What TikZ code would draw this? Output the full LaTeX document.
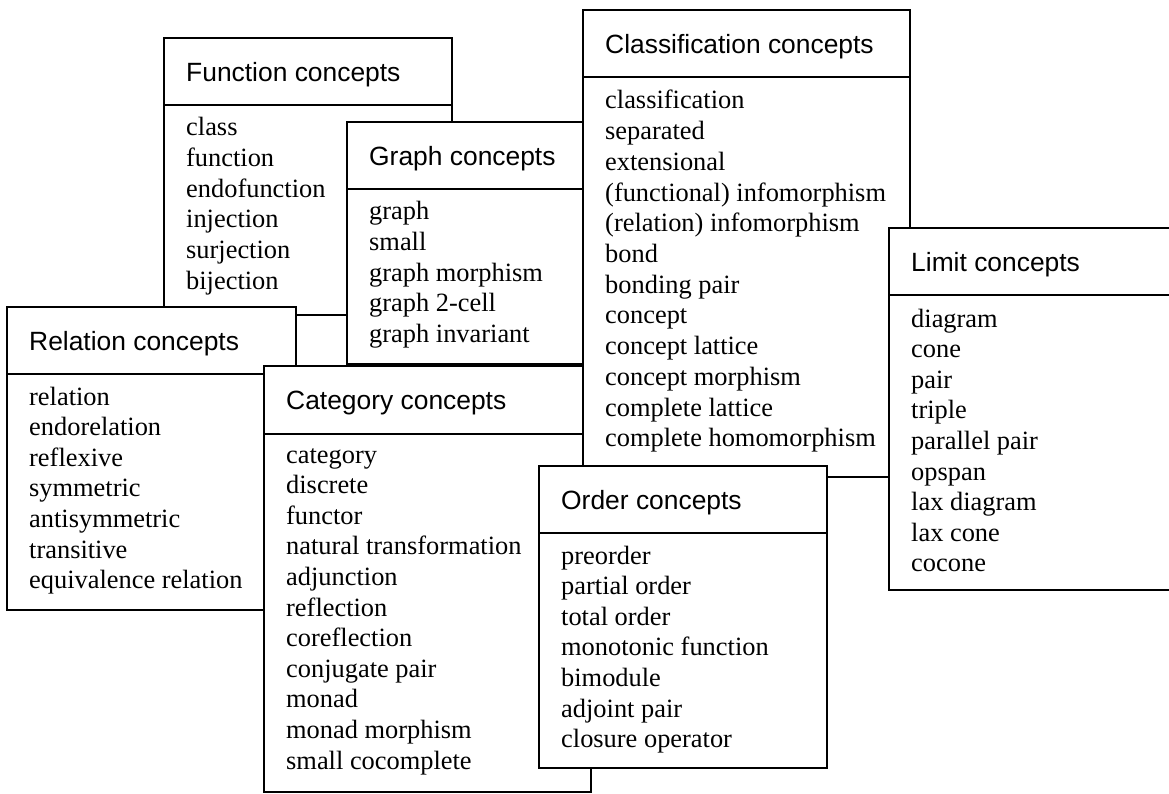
\documentclass[tikz,border=0pt]{standalone}
\usepackage{fontspec}
\setmainfont{Liberation Serif}
\setsansfont{Liberation Sans}
\tikzset{
  card/.style={draw=black,fill=white,line width=2pt},
  rule/.style={draw=black,line width=2pt},
  head/.style={font=\sffamily\fontsize{26.4}{30}\selectfont,anchor=base west,inner sep=0pt},
  item/.style={font=\fontsize{26.4}{30}\selectfont,anchor=base west,inner sep=0pt}
}
\begin{document}
\begin{tikzpicture}[x=1pt,y=-1pt]
            \useasboundingbox (0,0) rectangle (1169,794);
            % function
            \draw[card] (164,38) rectangle (452,315);
            \draw[rule] (164,105)--(452,105);
            \node[head] (funhead) at (186,81.3) {Function concepts};
            \foreach \t [count=\i] in {class,function,endofunction,injection,surjection,bijection}
                \node[item] (fun\i) at (186,{136+30.6*(\i-1)}) {\t};
            % graph
            \draw[card] (347,122) rectangle (583,364);
            \draw[rule] (347,189)--(583,189);
            \node[head] (grahead) at (369,165.3) {Graph concepts};
            \foreach \t [count=\i] in {graph,small,graph morphism,graph 2-cell,graph invariant}
                \node[item] (gra\i) at (369,{220+30.6*(\i-1)}) {\t};
            % relation
            \draw[card] (7,307) rectangle (296,610);
            \draw[rule] (7,374)--(296,374);
            \node[head] (relhead) at (29,350.3) {Relation concepts};
            \foreach \t [count=\i] in {relation,endorelation,reflexive,symmetric,antisymmetric,transitive,equivalence relation}
                \node[item] (rel\i) at (29,{405+30.6*(\i-1)}) {\t};
            % category
            \draw[card] (264,366) rectangle (591,792);
            \draw[rule] (264,434)--(591,434);
            \node[head] (cathead) at (286,409.8) {Category concepts};
            \foreach \t [count=\i] in {category,discrete,functor,natural transformation,adjunction,reflection,coreflection,conjugate pair,monad,monad morphism,small cocomplete}
                \node[item] (cat\i) at (286,{463+30.6*(\i-1)}) {\t};
            % classification
            \draw[card] (583,10) rectangle (910,477);
            \draw[rule] (583,77)--(910,77);
            \node[head] (clahead) at (605,53.3) {Classification concepts};
            \foreach \t [count=\i] in {classification,separated,extensional,{(functional) infomorphism},{(relation) infomorphism},bond,bonding pair,concept,concept lattice,concept morphism,complete lattice,complete homomorphism}
                \node[item] (cla\i) at (605,{109+30.7*(\i-1)}) {\t};
            % limit
            \draw[card] (889,228) rectangle (1175,590);
            \draw[rule] (889,295)--(1175,295);
            \node[head] (limhead) at (911,271.3) {Limit concepts};
            \foreach \t [count=\i] in {diagram,cone,pair,triple,parallel pair,opspan,lax diagram,lax cone,cocone}
                \node[item] (lim\i) at (911,{327+30.6*(\i-1)}) {\t};
            % order
            \draw[card] (539,466) rectangle (827,768);
            \draw[rule] (539,533)--(827,533);
            \node[head] (ordhead) at (561,509.3) {Order concepts};
            \foreach \t [count=\i] in {preorder,partial order,total order,monotonic function,bimodule,adjoint pair,closure operator}
                \node[item] (ord\i) at (561,{564+30.6*(\i-1)}) {\t};
\end{tikzpicture}
\end{document}
